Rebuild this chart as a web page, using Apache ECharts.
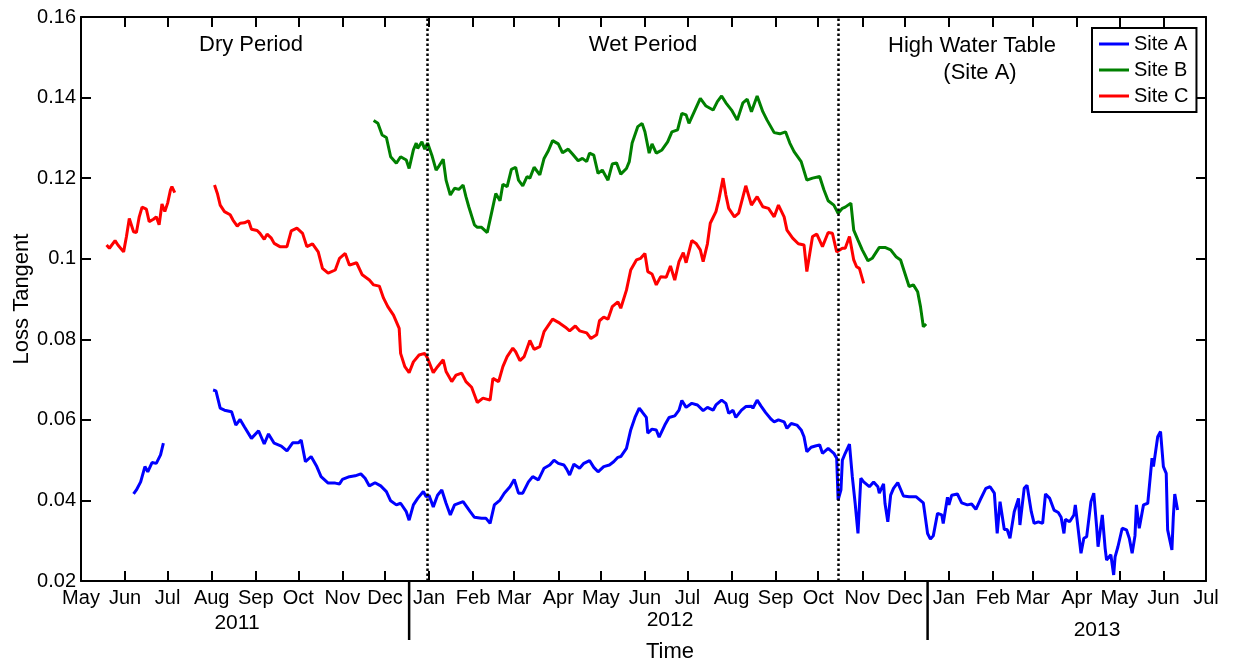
<!DOCTYPE html>
<html>
<head>
<meta charset="utf-8">
<script src="https://cdn.jsdelivr.net/npm/echarts@6/dist/echarts.min.js"></script>
<style>
html,body{margin:0;padding:0;background:#fff;}
#chart{width:1233px;height:671px;}
</style>
</head>
<body>
<div id="chart"></div>
<script>
// ---------- DATA (days since 2011-05-01, loss tangent) ----------
const monthNames = ['Jan','Feb','Mar','Apr','May','Jun','Jul','Aug','Sep','Oct','Nov','Dec'];
const yTicks = [0.02,0.04,0.06,0.08,0.1,0.12,0.14,0.16];

const siteA_days = [37,39,42,45,47,50,53,56,58,75,
93,95,98,101,106,109,112,115,120,125,129,132,136,141,145,149,153,155,158,162,166,169,174,179,182,184,189,193,197,200,203,207,211,215,218,222,225,229,231,234,237,241,243,245,248,251,254,257,260,263,269,274,277,282,285,288,291,295,298,302,305,308,311,315,318,322,326,330,333,336,340,342,344,347,351,354,358,361,364,368,372,375,378,380,384,387,390,393,395,398,399,402,405,407,411,414,418,421,423,426,430,434,438,441,445,447,451,454,456,459,461,465,468,472,473,476,479,482,486,488,491,495,497,500,504,507,509,511,514,517,520,522,526,530,532,533,535,536,538,541,543,545,547,549,551,555,558,561,562,565,566,568,570,572,575,579,583,588,593,596,598,600,603,606,607,610,611,613,617,620,624,627,630,633,637,640,643,645,647,650,652,654,657,660,661,664,666,669,671,674,677,679,682,685,688,690,692,693,696,699,700,704,706,708,711,713,715,716,719,721,722,725,727,728,730,733,736,738,740,742,743,745,748,751,754,755,758,760,762,764,765,768,769,770,772];
const siteA_vals = [0.0416,0.0426,0.0446,0.0484,0.0471,0.0494,0.0492,0.0513,0.0542,null,
0.0674,0.0672,0.0629,0.0624,0.0620,0.0587,0.0601,0.0583,0.0554,0.0573,0.0540,0.0565,0.0542,0.0535,0.0523,0.0543,0.0543,0.0550,0.0496,0.0509,0.0484,0.0459,0.0443,0.0443,0.0441,0.0452,0.0459,0.0461,0.0466,0.0455,0.0436,0.0444,0.0436,0.0422,0.0399,0.0389,0.0393,0.0372,0.0351,0.0389,0.0405,0.0422,0.0409,0.0413,0.0384,0.0413,0.0426,0.0393,0.0364,0.0389,0.0397,0.0372,0.0358,0.0356,0.0356,0.0343,0.0389,0.0401,0.0418,0.0434,0.0452,0.0418,0.0418,0.0446,0.0459,0.0451,0.0480,0.0488,0.0500,0.0492,0.0488,0.0477,0.0463,0.0490,0.0480,0.0492,0.0499,0.0482,0.0471,0.0484,0.0488,0.0496,0.0507,0.0509,0.0529,0.0575,0.0606,0.0629,0.0620,0.0606,0.0567,0.0577,0.0575,0.0557,0.0587,0.0606,0.0610,0.0624,0.0648,0.0631,0.0641,0.0637,0.0623,0.0631,0.0624,0.0637,0.0649,0.0641,0.0616,0.0624,0.0606,0.0624,0.0633,0.0634,0.0629,0.0649,0.0633,0.0618,0.0601,0.0595,0.0600,0.0595,0.0579,0.0591,0.0587,0.0575,0.0558,0.0521,0.0532,0.0535,0.0538,0.0517,0.0529,0.0517,0.0505,0.0401,0.0426,0.0500,0.0517,0.0540,0.0459,0.0393,0.0318,0.0455,0.0446,0.0434,0.0446,0.0434,0.0418,0.0441,0.0393,0.0347,0.0413,0.0430,0.0444,0.0411,0.0409,0.0409,0.0394,0.0318,0.0304,0.0312,0.0368,0.0364,0.0343,0.0408,0.0389,0.0413,0.0416,0.0394,0.0389,0.0391,0.0378,0.0401,0.0430,0.0434,0.0418,0.0318,0.0397,0.0328,0.0328,0.0306,0.0372,0.0405,0.0339,0.0430,0.0438,0.0372,0.0343,0.0347,0.0343,0.0416,0.0405,0.0376,0.0370,0.0358,0.0318,0.0353,0.0347,0.0364,0.0389,0.0269,0.0306,0.0310,0.0397,0.0418,0.0335,0.0285,0.0364,0.0281,0.0252,0.0265,0.0215,0.0260,0.0285,0.0331,0.0327,0.0306,0.0269,0.0312,0.0389,0.0331,0.0389,0.0393,0.0505,0.0484,0.0558,0.0571,0.0484,0.0467,0.0327,0.0277,0.0360,0.0416,0.0376];

const siteB_days = [206,209,212,215,218,222,225,229,231,234,236,237,240,242,244,247,250,252,255,257,260,263,266,269,271,273,277,279,282,286,289,292,295,297,300,303,306,308,311,314,316,319,323,326,329,332,336,339,343,346,350,353,356,358,361,364,367,371,374,377,380,384,386,388,392,395,397,400,402,405,409,413,416,420,423,426,428,432,436,440,445,448,451,454,458,462,466,469,472,476,480,483,488,492,496,499,502,507,511,515,520,523,526,530,533,536,538,542,544,547,550,554,557,562,566,570,574,577,580,583,586,589,591,593,595];
const siteB_vals = [0.1343,0.1336,0.1307,0.1301,0.1253,0.1237,0.1253,0.1245,0.1224,0.1270,0.1287,0.1274,0.1290,0.1272,0.1287,0.1257,0.1220,0.1230,0.1247,0.1195,0.1158,0.1175,0.1172,0.1183,0.1154,0.1129,0.1084,0.1078,0.1078,0.1065,0.1113,0.1162,0.1144,0.1185,0.1179,0.1222,0.1227,0.1195,0.1181,0.1204,0.1200,0.1227,0.1208,0.1249,0.1268,0.1293,0.1285,0.1263,0.1272,0.1260,0.1243,0.1249,0.1241,0.1262,0.1257,0.1212,0.1220,0.1195,0.1235,0.1238,0.1210,0.1224,0.1241,0.1287,0.1328,0.1336,0.1315,0.1262,0.1285,0.1262,0.1270,0.1290,0.1315,0.1320,0.1361,0.1357,0.1336,0.1367,0.1398,0.1379,0.1369,0.1390,0.1404,0.1387,0.1369,0.1344,0.1387,0.1396,0.1365,0.1404,0.1365,0.1344,0.1313,0.1310,0.1315,0.1287,0.1266,0.1241,0.1195,0.1200,0.1204,0.1171,0.1144,0.1133,0.1113,0.1125,0.1128,0.1138,0.1071,0.1046,0.1022,0.0995,0.1001,0.1028,0.1028,0.1022,0.1004,0.0997,0.0964,0.0931,0.0935,0.0918,0.0881,0.0831,0.0838];

const siteC_days = [18,20,24,26,30,32,34,37,39,41,43,46,48,51,53,55,57,59,61,63,64,66,80,
94,96,98,101,105,107,110,112,115,118,120,124,126,129,131,134,136,140,145,146,148,152,156,159,163,167,170,174,179,182,186,189,194,198,203,206,210,213,216,220,224,225,228,231,234,238,242,244,248,251,255,257,261,264,268,271,275,279,283,288,290,294,297,300,304,306,309,312,316,319,323,326,332,337,341,344,348,351,356,359,363,365,368,371,374,378,380,384,387,391,394,397,399,402,405,408,412,415,418,421,424,426,430,433,436,438,441,443,447,449,452,454,456,460,463,468,472,476,480,484,488,491,495,497,501,505,509,511,515,518,522,526,529,532,536,538,541,544,546,548,551];
const siteC_vals = [0.1034,0.1026,0.1045,0.1034,0.1017,0.1055,0.1100,0.1067,0.1065,0.1104,0.1128,0.1123,0.1092,0.1098,0.1104,0.1084,0.1136,0.1117,0.1138,0.1171,0.1179,0.1164,null,
0.1183,0.1162,0.1133,0.1117,0.1109,0.1096,0.1081,0.1088,0.1089,0.1094,0.1073,0.1070,0.1063,0.1048,0.1061,0.1051,0.1038,0.1030,0.1030,0.1034,0.1069,0.1076,0.1063,0.1030,0.1037,0.1017,0.0976,0.0964,0.0972,0.1001,0.1013,0.0984,0.0990,0.0960,0.0947,0.0935,0.0932,0.0902,0.0881,0.0860,0.0827,0.0765,0.0732,0.0717,0.0744,0.0761,0.0765,0.0753,0.0717,0.0732,0.0749,0.0720,0.0695,0.0711,0.0716,0.0695,0.0681,0.0643,0.0654,0.0649,0.0703,0.0695,0.0732,0.0757,0.0778,0.0769,0.0747,0.0757,0.0797,0.0775,0.0782,0.0819,0.0850,0.0840,0.0830,0.0821,0.0833,0.0821,0.0816,0.0802,0.0811,0.0846,0.0855,0.0850,0.0881,0.0893,0.0877,0.0922,0.0972,0.0997,0.1001,0.1013,0.0968,0.0962,0.0935,0.0955,0.0954,0.0982,0.0947,0.0993,0.1015,0.0990,0.1045,0.1038,0.1022,0.0993,0.1037,0.1088,0.1117,0.1146,0.1200,0.1158,0.1125,0.1104,0.1113,0.1181,0.1133,0.1154,0.1129,0.1125,0.1104,0.1133,0.1104,0.1071,0.1051,0.1037,0.1034,0.0968,0.1055,0.1061,0.1030,0.1065,0.1063,0.1017,0.1026,0.1026,0.1055,0.0997,0.0980,0.0976,0.0939];

// period boundaries (days since 2011-05-01) and year dividers
const periodLines = [244, 533];
const yearDividers = [231, 596];
const yearLabels = [
  {text:'2011', x:237, y:623},
  {text:'2012', x:670, y:620},
  {text:'2013', x:1097, y:630}
];
// ---------------------------------------------------------------

function dayToTime(d){ return new Date(2011, 4, 1 + d).getTime(); }
function toSeries(days, vals){ return days.map((d,i)=>[dayToTime(d), vals[i]]); }

const FONT = "'Liberation Sans', Arial, sans-serif";
const DAY = 86400000;
const chart = echarts.init(document.getElementById('chart'));

const xBase = {
  type:'time',
  min: dayToTime(0),
  max: new Date(2013,6,1).getTime(),
  splitNumber: 26,
  minInterval: 28*DAY,
  maxInterval: 31*DAY,
  splitLine:{show:false},
  axisLine:{show:true, lineStyle:{color:'#000', width:2}},
  axisTick:{show:true, inside:true, length:10, lineStyle:{color:'#000', width:2}}
};
const yBase = {
  type:'value', min:0.02, max:0.16, interval:0.02,
  splitLine:{show:false},
  axisLine:{show:true, lineStyle:{color:'#000', width:2}},
  axisTick:{show:true, inside:true, length:10, lineStyle:{color:'#000', width:2}}
};

const option = {
  animation:false,
  backgroundColor:'#fff',
  grid:{left:81, right:27, top:17, bottom:90, containLabel:false, outerBoundsMode:'none'},
  legend:{
    data:['Site A','Site B','Site C'],
    orient:'vertical', left:1092, top:28,
    itemWidth:30, itemHeight:3, itemGap:6, icon:'rect',
    padding:[6,8,6,7],
    borderColor:'#000', borderWidth:2, backgroundColor:'#fff',
    textStyle:{fontSize:20, color:'#000', fontFamily:FONT, lineHeight:20},
    z:10
  },
  xAxis:[
    Object.assign({}, xBase, {
      position:'bottom',
      name:'Time', nameLocation:'middle', nameGap:60, nameMoveOverlap:false,
      nameTextStyle:{fontSize:22, color:'#000', fontFamily:FONT, padding:[0,0,0,53]},
      axisLabel:{
        show:true, fontSize:20, color:'#000', fontFamily:FONT, margin:7,
        hideOverlap:false, showMinLabel:true, showMaxLabel:true,
        formatter:function(v){ return monthNames[new Date(v).getMonth()]; }
      }
    }),
    Object.assign({}, xBase, {position:'top', axisLabel:{show:false}})
  ],
  yAxis:[
    Object.assign({}, yBase, {
      position:'left',
      name:'Loss Tangent', nameLocation:'middle', nameGap:48, nameRotate:90, nameMoveOverlap:false,
      nameTextStyle:{fontSize:22, color:'#000', fontFamily:FONT},
      axisLabel:{fontSize:20, color:'#000', fontFamily:FONT, margin:5,
        formatter:function(v){ return String(+v.toFixed(2)); }}
    }),
    Object.assign({}, yBase, {position:'right', axisLabel:{show:false}})
  ],
  series:[
    {name:'Site A', type:'line', data:toSeries(siteA_days, siteA_vals), showSymbol:false, symbol:'none',
     connectNulls:false, lineStyle:{width:3, color:'#0000ff'}, itemStyle:{color:'#0000ff'},
     markLine:{silent:true, symbol:['none','none'], label:{show:false},
       lineStyle:{color:'#000', type:[2.5,2.5], width:2.5},
       data: periodLines.map(d=>({xAxis: dayToTime(d)}))}},
    {name:'Site B', type:'line', data:toSeries(siteB_days, siteB_vals), showSymbol:false, symbol:'none',
     lineStyle:{width:3, color:'#008000'}, itemStyle:{color:'#008000'}},
    {name:'Site C', type:'line', data:toSeries(siteC_days, siteC_vals), showSymbol:false, symbol:'none',
     connectNulls:false, lineStyle:{width:3, color:'#ff0000'}, itemStyle:{color:'#ff0000'}}
  ],
  graphic:[]
};
chart.setOption(option);

// annotations and year dividers
const gBottom = 671 - 90;
const g = [];
yearDividers.forEach(d=>{
  const px = chart.convertToPixel({xAxisIndex:0}, dayToTime(d));
  g.push({type:'line', shape:{x1:px, y1:gBottom, x2:px, y2:640}, style:{stroke:'#000', lineWidth:2.5}, z:5});
});
yearLabels.forEach(l=>{
  g.push({type:'text', x:l.x, y:l.y, style:{text:l.text, fill:'#000', font:'21px '+FONT, textAlign:'center', textVerticalAlign:'middle'}});
});
const notes = [
  {text:'Dry Period', x:251, y:45},
  {text:'Wet Period', x:643, y:45},
  {text:'High Water Table', x:972, y:46},
  {text:'(Site A)', x:980, y:73}
];
notes.forEach(n=>{
  g.push({type:'text', x:n.x, y:n.y, style:{text:n.text, fill:'#000', font:'22px '+FONT, textAlign:'center', textVerticalAlign:'middle'}});
});
chart.setOption({graphic:g});
</script>
</body>
</html>
